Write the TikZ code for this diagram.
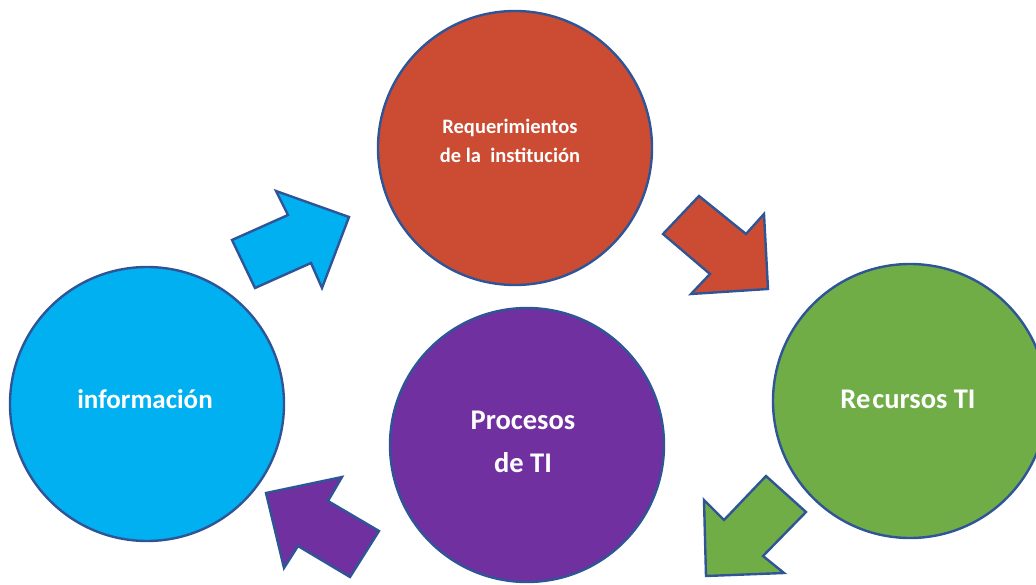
\documentclass[tikz,border=0pt]{standalone}
\usepackage{fontspec}
\setmainfont{Carlito}
\definecolor{cred}{HTML}{CB4C33}
\definecolor{cblue}{HTML}{00B0F0}
\definecolor{cgreen}{HTML}{70AD47}
\definecolor{cpurple}{HTML}{7030A0}
\definecolor{cline}{HTML}{2F5597}
\begin{document}
\begin{tikzpicture}[x=1pt,y=-1pt,
  bubble/.style={circle,draw=cline,line width=2.4pt,minimum size=274pt,inner sep=0pt},
  blockarrow/.style={draw=cline,line width=2.4pt,line join=miter},
  lbl/.style={text=white,font=\bfseries,align=center}]
\useasboundingbox (0,0) rectangle (1036,585);
\clip (0,0) rectangle (1036,585);
% circles
\node[bubble,fill=cred] (req) at (515,148) {};
\node[bubble,fill=cblue] (inf) at (147,404) {};
\node[bubble,fill=cpurple] (pro) at (527,445) {};
\node[bubble,fill=cgreen] (rec) at (910,401) {};
% labels
\node[lbl,font=\bfseries\fontsize{20.5}{29}\selectfont] (reqt) at (510,141) {Requerimientos\\de la \ institución};
\node[lbl,font=\bfseries\fontsize{27}{43}\selectfont] (inft) at (145,399) {información};
\node[lbl,font=\bfseries\fontsize{28.5}{43}\selectfont] (prot) at (523,442) {Procesos\\de TI};
\node[lbl,font=\bfseries\fontsize{28.5}{40}\selectfont] (rect) at (908,399) {Re\hspace{2pt}cursos TI};
% arrows
\draw[blockarrow,fill=cblue] (232,240) -- (288,215) -- (276,191) -- (349,217) -- (322,288) -- (311,263) -- (255,288) -- cycle;
\draw[blockarrow,fill=cred] (699,196) -- (746,234) -- (764,214) -- (768,289) -- (691,294) -- (710,274) -- (663,234) -- cycle;
\draw[blockarrow,fill=cgreen] (766,476) -- (806,512) -- (763,556) -- (784,573) -- (706,576) -- (704,500) -- (724,520) -- cycle;
\draw[blockarrow,fill=cpurple] (379,531) -- (350,577) -- (298,546) -- (284,568) -- (266,493) -- (342,477) -- (328,501) -- cycle;
\end{tikzpicture}
\end{document}
